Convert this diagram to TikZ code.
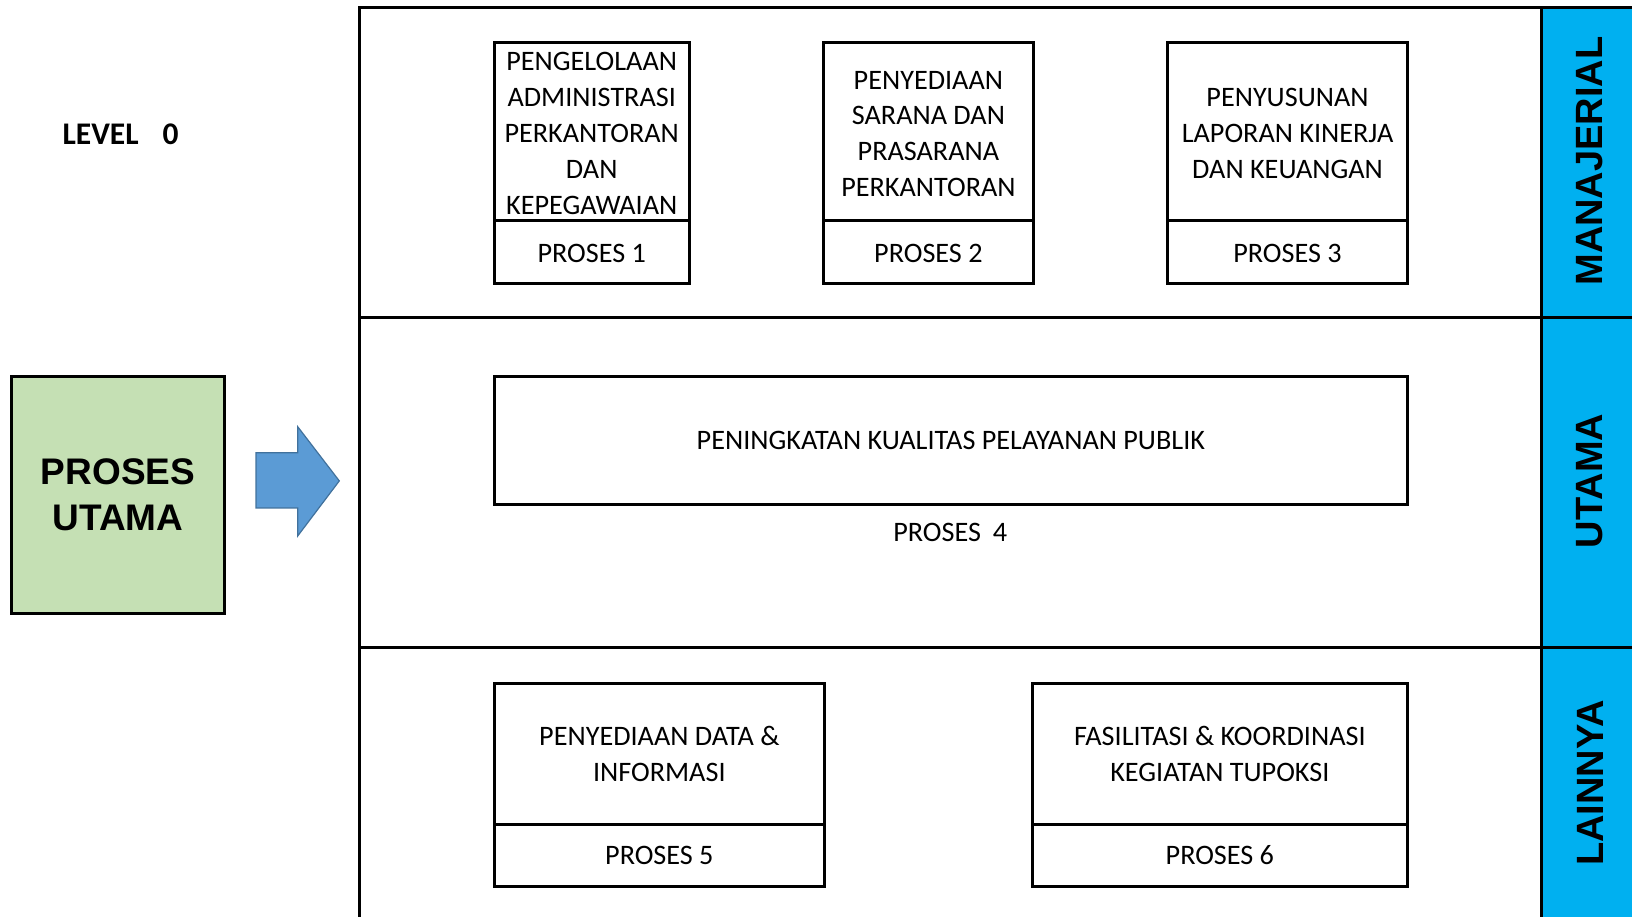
\documentclass[tikz,border=0pt]{standalone}
\usepackage{fontspec}
\setmainfont{Carlito}
\newfontfamily\arialbold[BoldFont={Liberation Sans Bold}]{Liberation Sans}
\definecolor{stripblue}{HTML}{00B0F0}
\definecolor{lightgreen}{HTML}{C5E0B4}
\definecolor{arrowfill}{HTML}{5B9BD5}
\definecolor{arrowline}{HTML}{41719C}
\newcommand{\bodyfont}{\fontsize{28.2}{35.9}\selectfont}
% lower visible text by #1 inside a centred node, shrinking its nominal size a little
\newcommand{\lowertext}[2]{\raisebox{0pt}[\dimexpr\height+#1-4pt\relax][\dimexpr\depth-#1-4pt\relax]{\begin{tabular}{@{}c@{}}#2\end{tabular}}}
\begin{document}
\begin{tikzpicture}[x=1pt,y=-1pt,
  box/.style={draw, line width=3pt, inner sep=0pt, outer sep=0pt, align=center, font=\bodyfont},
  plain/.style={inner sep=0pt, align=center, font=\bodyfont},
  side/.style={rotate=90, inner sep=0pt, font=\arialbold\bfseries\fontsize{38}{42}\selectfont},
  frameline/.style={line width=3pt}]
\useasboundingbox (0,0) rectangle (1632,917);
% frame and strip
\fill[stripblue] (1541.5,7.3) rectangle (1632,917);
\coordinate (tl) at (359,7.3);
\coordinate (tr) at (1632,7.3);
\coordinate (bl) at (359,917);
\coordinate (sv1) at (1541.5,7.3);
\coordinate (sv2) at (1541.5,917);
\coordinate (d1l) at (359,317.4);
\coordinate (d1r) at (1632,317.4);
\coordinate (d2l) at (359,647.4);
\coordinate (d2r) at (1632,647.4);
\draw[frameline] (tr) -- (tl) -- (bl);
\draw[frameline] (sv1) -- (sv2);
\draw[frameline] (d1l) -- (d1r);
\draw[frameline] (d2l) -- (d2r);
% side labels
\node[side] (lman) at (1590,161) {MANAJERIAL};
\node[side] (luta) at (1590,481) {UTAMA};
\node[side] (llai) at (1590,783) {LAINNYA};
% level
\node[plain, anchor=west, font=\fontsize{31.5}{36}\selectfont\bfseries] (level) at (62.4,134) {LEVEL\hspace{24pt}0};
% proses utama
\node[draw, line width=3pt, fill=lightgreen, inner sep=0pt, minimum width=213.4pt, minimum height=236.2pt, align=center,
      font=\arialbold\bfseries\fontsize{37}{45.8}\selectfont] (utama) at (118.1,494.9) {PROSES\\UTAMA};
% arrow
\filldraw[fill=arrowfill, draw=arrowline, line width=1.2pt, line join=miter]
  (256,452.8) -- (297.7,452.8) -- (297.7,426.7) -- (339.3,480.9) -- (297.7,536) -- (297.7,507.9) -- (256,507.9) -- cycle;
% proses 1
\node[box, minimum width=194.6pt, minimum height=178pt] (p1t) at (591.7,131.7) {\lowertext{3.5pt}{PENGELOLAAN\\ADMINISTRASI\\PERKANTORAN\\DAN\\KEPEGAWAIAN}};
\node[box, minimum width=194.6pt, minimum height=62.4pt] (p1b) at (591.7,251.9) {\lowertext{3pt}{PROSES 1}};
% proses 2
\node[box, minimum width=210.2pt, minimum height=178pt] (p2t) at (928.4,131.7) {\lowertext{4pt}{PENYEDIAAN\\SARANA DAN\\PRASARANA\\PERKANTORAN}};
\node[box, minimum width=210.2pt, minimum height=62.4pt] (p2b) at (928.4,251.9) {\lowertext{3pt}{PROSES 2}};
% proses 3
\node[box, minimum width=239.4pt, minimum height=178pt] (p3t) at (1287.5,131.7) {\lowertext{4pt}{PENYUSUNAN\\LAPORAN KINERJA\\DAN KEUANGAN}};
\node[box, minimum width=239.4pt, minimum height=62.4pt] (p3b) at (1287.5,251.9) {\lowertext{3pt}{PROSES 3}};
% proses 4
\node[box, minimum width=912.8pt, minimum height=128pt] (p4) at (950.8,440.8) {PENINGKATAN KUALITAS PELAYANAN PUBLIK};
\node[plain] (p4l) at (950.3,532.9) {PROSES\hspace{12pt}4};
% proses 5
\node[box, minimum width=329.9pt, minimum height=140.5pt] (p5t) at (659.35,754.05) {PENYEDIAAN DATA \&\\INFORMASI};
\node[box, minimum width=329.9pt, minimum height=62.5pt] (p5b) at (659.35,855.55) {PROSES 5};
% proses 6
\node[box, minimum width=374.7pt, minimum height=140.5pt] (p6t) at (1219.85,754.05) {FASILITASI \& KOORDINASI\\KEGIATAN TUPOKSI};
\node[box, minimum width=374.7pt, minimum height=62.5pt] (p6b) at (1219.85,855.55) {PROSES 6};
\end{tikzpicture}
\end{document}
